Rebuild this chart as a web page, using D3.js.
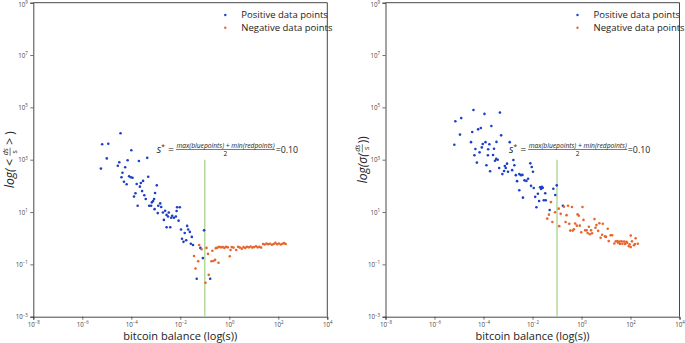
<!DOCTYPE html>
<html>
<head>
<meta charset="utf-8">
<script src="https://cdn.jsdelivr.net/npm/d3@7"></script>
<style>
body { margin: 0; background: #fff; }
svg { font-family: "Open Sans", "Noto Sans", sans-serif; }
</style>
</head>
<body>
<svg id="chart" width="685" height="343"></svg>
<script>

// tick positions, as powers of ten
var xTickExp = [-8, -6, -4, -2, 0, 2, 4];
var yTickExp = [-3, -1, 1, 3, 5, 7, 9];
var legendNames = ["Positive data points", "Negative data points"];
var sStar = 0.10;
var xLabel = "bitcoin balance (log(s))";

// points as [log10(s), log10(value)]
// left panel: mean of ds/s
var meanPos = [[-4.44,4.01],[-5.19,3.59],[-4.94,3.61],[-4.00,3.36],[-5.00,3.05],[-5.24,2.66],[-4.15,2.98],[-3.69,2.95],
  [-3.35,3.07],[-4.49,2.90],[-4.55,2.77],[-4.25,2.71],[-4.36,2.50],[-4.40,2.33],[-4.09,2.37],[-4.02,2.33],[-3.95,2.31],
  [-3.31,2.35],[-3.52,2.19],[-4.30,2.16],[-4.19,2.06],[-3.61,2.11],[-3.78,2.07],[-3.65,1.97],[-2.96,2.02],[-3.56,1.80],
  [-3.83,1.72],[-3.89,1.59],[-3.47,1.64],[-3.03,1.73],[-3.41,1.50],[-3.07,1.50],[-3.16,1.37],[-3.11,1.42],[-2.82,1.33],
  [-3.74,1.24],[-3.27,1.24],[-3.19,1.24],[-2.90,1.24],[-2.78,1.19],[-3.05,1.11],[-2.62,1.05],[-2.92,0.96],[-2.71,0.98],
  [-2.47,0.98],[-2.56,0.89],[-2.50,0.83],[-2.33,0.86],[-2.37,0.78],[-2.26,0.78],[-2.18,0.83],[-2.13,1.18],[-2.02,1.18],
  [-2.15,1.04],[-2.07,0.67],[-2.67,0.70],[-2.56,0.42],[-2.41,0.42],[-1.72,0.47],[-1.68,0.33],[-1.61,0.24],[-1.97,0.33],
  [-1.82,0.20],[-1.93,-0.02],[-1.87,-0.14],[-1.76,-0.08],[-1.53,0.05],[-1.57,-0.21],[-1.48,-0.26],[-1.03,0.30],
  [-1.18,-0.37],[-1.08,-0.76],[-1.33,-1.55],[-0.78,-1.55]];

var meanNeg = [[-1.23,-0.26],[-1.13,-0.42],[-1.44,-0.68],[-1.27,-0.88],[-1.38,-1.16],[-0.93,-0.37],[-0.87,-0.60],
  [-0.69,-0.48],[-0.73,-0.88],[-0.65,-0.87],[-0.58,-0.83],[-0.44,-0.94],[-0.84,-1.40],[-0.97,-1.70],[0.02,-0.69],
  [0.05,-0.45],[-0.55,-0.38],[0.28,-0.45],[0.51,-0.40],
  [-0.48,-0.36],[-0.41,-0.33],[-0.34,-0.35],[-0.27,-0.34],[-0.20,-0.37],[-0.13,-0.33],[-0.06,-0.35],[0.10,-0.34],
  [0.17,-0.36],[0.36,-0.33],[0.43,-0.36],[0.58,-0.34],[0.65,-0.37],[0.72,-0.33],[0.80,-0.35],[0.87,-0.32],[0.94,-0.36],
  [1.01,-0.34],[1.09,-0.31],[1.16,-0.35],[1.23,-0.33],[1.30,-0.36],[1.38,-0.22],[1.45,-0.24],[1.52,-0.20],[1.59,-0.23],
  [1.66,-0.21],[1.74,-0.25],[1.81,-0.22],[1.88,-0.18],[1.95,-0.23],[2.02,-0.20],[2.10,-0.24],[2.17,-0.21],[2.24,-0.19],
  [2.30,-0.22]];

// right panel: standard deviation of ds/s
var sdPos = [[-4.41,4.90],[-3.96,4.75],[-3.33,4.80],[-4.91,4.59],[-5.15,4.47],[-3.68,4.29],[-4.11,4.21],[-4.22,4.16],
  [-4.46,4.06],[-4.96,3.96],[-3.28,3.93],[-5.19,3.57],[-4.51,3.67],[-4.03,3.60],[-3.92,3.67],[-3.76,3.59],[-3.47,3.68],
  [-2.93,3.67],[-4.33,3.41],[-4.07,3.47],[-3.81,3.40],[-3.57,3.42],[-4.16,3.28],[-4.37,3.17],[-3.82,3.17],[-3.61,3.18],
  [-3.48,3.03],[-3.42,3.00],[-3.53,2.96],[-4.27,2.89],[-3.88,2.79],[-3.04,2.85],[-2.78,2.99],[-3.13,2.76],[-3.09,2.68],
  [-2.74,2.79],[-3.36,2.68],[-3.73,2.56],[-3.23,2.45],[-3.16,2.57],[-3.00,2.54],[-2.83,2.60],[-2.68,2.41],[-2.54,2.45],
  [-2.47,2.41],[-2.09,2.86],[-2.03,2.72],[-1.98,2.54],[-2.41,2.42],[-2.63,2.18],[-2.33,2.21],[-2.25,2.19],[-2.18,2.27],
  [-2.06,2.00],[-1.95,1.92],[-1.69,1.95],[-1.62,1.96],[-1.58,1.93],[-1.65,1.88],[-1.15,1.89],[-1.01,2.02],[-2.54,1.83],
  [-1.78,1.70],[-1.48,1.72],[-2.39,1.55],[-1.54,1.45],[-1.46,1.45],[-1.73,1.42],[-1.07,1.65],[-1.84,1.18],[-1.89,1.58],
  [-1.30,1.08],[-0.76,1.24]];

var sdNeg = [[-1.25,1.38],[-0.93,1.13],[-0.72,1.20],[-0.55,1.24],[-0.39,1.19],[0.04,1.19],[-1.08,0.99],[-0.85,0.93],
  [-1.33,0.90],[-0.61,0.88],[-0.16,0.91],[-0.11,0.86],[-1.40,0.75],[0.08,0.70],[-1.19,0.62],[-0.65,0.62],[-0.50,0.55],
  [-0.26,0.56],[0.53,0.73],[-0.91,0.46],[-0.19,0.48],[-0.07,0.48],[0.73,0.57],[0.87,0.55],[0.61,0.50],[0.30,0.44],
  [-0.46,0.29],[-0.36,0.29],[-0.31,0.34],[0.15,0.30],[0.21,0.30],[-0.01,0.23],[0.39,0.30],[0.57,0.40],[0.68,0.28],
  [1.07,0.36],[0.25,0.20],[0.34,0.15],[0.43,0.19],[0.84,0.13],[1.00,0.05],[0.96,0.07],[0.78,0.02],[1.19,0.11],
  [1.25,0.11],[2.01,0.10],[2.21,0.00],[1.11,-0.11],[1.40,-0.12],[1.47,-0.11],[1.49,-0.17],[1.34,-0.20],[1.56,-0.13],
  [1.64,-0.12],[1.74,-0.13],[1.83,-0.14],[1.57,-0.22],[1.67,-0.21],[1.78,-0.22],[1.86,-0.17],[1.96,-0.23],[2.06,-0.12],
  [1.93,-0.31],[2.01,-0.34],[2.14,-0.27],[2.18,-0.22],[2.30,-0.21]];

var blue = "#1c3fc6";
var orange = "#e8652d";
var green = "#a9d48c";
var ink = "#222";

var svg = d3.select("#chart");
var pw = 294, ph = 314;

function pow10(e) { return Math.pow(10, e); }

// lays out a row of text pieces and stacked fractions, returns width
function mathText(parent, pieces) {
    var cx = 0;
    pieces.forEach(function(p) {
        if (p.num !== undefined) {
            var top = parent.append("text").attr("font-size", p.size).attr("font-style", "italic")
                .attr("text-anchor", "middle").attr("y", p.line - 2).attr("fill", ink).text(p.num);
            var bot = parent.append("text").attr("font-size", p.size).attr("font-style", p.denItalic ? "italic" : "normal")
                .attr("text-anchor", "middle").attr("y", p.line + 1.5 + p.size * 0.75).attr("fill", ink).text(p.den);
            var wd = Math.max(top.node().getComputedTextLength(), bot.node().getComputedTextLength()) + 1;
            top.attr("x", cx + wd / 2);
            bot.attr("x", cx + wd / 2);
            parent.append("line").attr("x1", cx).attr("x2", cx + wd).attr("y1", p.line).attr("y2", p.line)
                .attr("stroke", ink).attr("stroke-width", 0.6);
            cx += wd + (p.gap || 0);
        } else {
            var t = parent.append("text").attr("x", cx).attr("y", p.dy || 0).attr("font-size", p.size)
                .attr("font-style", p.italic ? "italic" : "normal").attr("fill", ink).text(p.t);
            cx += t.node().getComputedTextLength() + (p.gap || 0);
        }
    });
    return cx;
}

function supLabels(sel) {
    sel.selectAll(".tick text").each(function(d) {
        var t = d3.select(this);
        var e = Math.round(Math.log10(d));
        t.append("tspan").text("10");
        t.append("tspan").attr("dy", -2.6).attr("font-size", 4.4).text(String(e).replace("-", "\u2212"));
        if (e === 9 && sel.classed("yax")) t.attr("y", 1.5);
    });
}

function panel(left, pos, neg, ylabel) {
    var g = svg.append("g").attr("transform", "translate(" + left + ",2.7)");

    var x = d3.scaleLog().domain([1e-8, 1e4]).range([0, pw]);
    var y = d3.scaleLog().domain([1e-3, 1e9]).range([ph, 0]);

    var xAxis = g.append("g").attr("transform", "translate(0," + ph + ")")
        .call(d3.axisBottom(x).tickValues(xTickExp.map(pow10)).tickSize(3).tickPadding(3).tickFormat(""));
    var yAxis = g.append("g").classed("yax", true)
        .call(d3.axisLeft(y).tickValues(yTickExp.map(pow10)).tickSize(3).tickPadding(2.5).tickFormat(""));
    [xAxis, yAxis].forEach(function(a) {
        a.selectAll("text").attr("font-size", 6.2).attr("fill", "#444").attr("font-family", "Open Sans, sans-serif");
        a.selectAll("line").attr("stroke", "#333").attr("stroke-width", 0.7);
        a.select(".domain").attr("stroke", "#333").attr("stroke-width", 0.9);
        supLabels(a);
    });

    // box on top and right
    g.append("path").attr("d", "M0,0H" + pw + "V" + ph).attr("fill", "none")
        .attr("stroke", "#333").attr("stroke-width", 0.9);

    // s* threshold
    g.append("line")
        .attr("x1", x(sStar)).attr("x2", x(sStar))
        .attr("y1", y(1e3)).attr("y2", y(1e-3))
        .attr("stroke", green).attr("stroke-width", 1.3);

    g.append("g").selectAll("circle").data(pos).enter().append("circle")
        .attr("cx", function(d) { return x(pow10(d[0])); })
        .attr("cy", function(d) { return y(pow10(d[1])); })
        .attr("r", 1.3).attr("fill", blue);
    g.append("g").selectAll("circle").data(neg).enter().append("circle")
        .attr("cx", function(d) { return x(pow10(d[0])); })
        .attr("cy", function(d) { return y(pow10(d[1])); })
        .attr("r", 1.3).attr("fill", orange);

    // legend
    var leg = g.append("g").attr("transform", "translate(192,12.3)");
    legendNames.forEach(function(name, i) {
        leg.append("circle").attr("cx", 0).attr("cy", i * 12.7).attr("r", 1.2).attr("fill", i ? orange : blue);
        leg.append("text").attr("x", 16).attr("y", i * 12.7 + 3.3).attr("font-size", 9.5).attr("fill", ink).text(name);
    });

    // formula
    var f = g.append("g").attr("transform", "translate(123.5,149.8)");
    mathText(f, [
        { t: "s", italic: true, size: 10.5 },
        { t: "*", size: 6.5, dy: -4, gap: 3 },
        { t: "=", size: 10.5, gap: 2 },
        { num: "max(bluepoints) + min(redpoints)", den: "2", size: 6.7, line: -3, gap: 0.5 },
        { t: "=0.10", size: 8.8 }
    ]);

    // axis titles
    g.append("text").attr("x", pw / 2).attr("y", 340.5 - 2.7).attr("text-anchor", "middle")
        .attr("font-size", 11).attr("fill", ink).text(xLabel);

    var yl = g.append("g").attr("transform", "translate(-19," + 157 + ") rotate(-90)");
    var inner = yl.append("g");
    var w = mathText(inner, ylabel);
    inner.attr("transform", "translate(" + (-w / 2) + ",0)");
}

panel(33.3, meanPos, meanNeg, [
    { t: "log(", italic: true, size: 12, gap: 3 },
    { t: "<", size: 12, gap: 3 },
    { num: "ds", den: "s", size: 7, line: -4.2, gap: 3 },
    { t: ">", size: 12, gap: 3 },
    { t: ")", size: 12 }
]);

panel(385.5, sdPos, sdNeg, [
    { t: "log(\u03c3(", italic: true, size: 12, gap: 1 },
    { num: "ds", den: "s", size: 7, line: -4.2, gap: 1 },
    { t: "))", size: 12 }
]);

</script>
</body>
</html>
